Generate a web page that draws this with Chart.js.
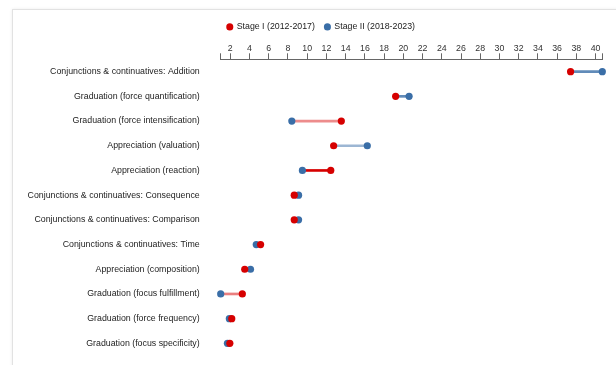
<!DOCTYPE html>
<html>
<head>
  <meta charset="utf-8">
  <title>Stage I vs Stage II</title>
  <script src="https://cdn.jsdelivr.net/npm/chart.js@4.4.0/dist/chart.umd.min.js"></script>
  <style>
    body { margin: 0; background: #ffffff; }
    #frame { position: absolute; left: 12px; top: 9px; width: 700px; height: 420px;
             border: 1px solid #e2e2e2; box-shadow: 0 0 3px rgba(0,0,0,0.08); }
    #chart { position: absolute; left: 0; top: 0; }
  </style>
</head>
<body>
  <div id="frame"></div>
  <canvas id="chart" width="616" height="365"></canvas>
  <script>
    // categories, top to bottom
    let categories = [
      "Conjunctions & continuatives: Addition",
      "Graduation (force quantification)",
      "Graduation (force intensification)",
      "Appreciation (valuation)",
      "Appreciation (reaction)",
      "Conjunctions & continuatives: Consequence",
      "Conjunctions & continuatives: Comparison",
      "Conjunctions & continuatives: Time",
      "Appreciation (composition)",
      "Graduation (focus fulfillment)",
      "Graduation (force frequency)",
      "Graduation (focus specificity)"
    ];
    let stage1 = [37.4, 19.2, 13.55, 12.75, 12.45, 8.65, 8.65, 5.15, 3.5, 3.25, 2.15, 1.95];
    let stage2 = [40.7, 20.6, 8.4, 16.25, 9.5, 9.1, 9.1, 4.7, 4.1, 1.0, 1.9, 1.7];
    let xTicks = [2, 4, 6, 8, 10, 12, 14, 16, 18, 20, 22, 24, 26, 28, 30, 32, 34, 36, 38, 40];

    const RED = "#d60000";
    const BLUE = "#3a6ea7";
    // connector opacity per row
    const linkAlpha = [0.8, 0.8, 0.45, 0.5, 1, 1, 1, 1, 1, 0.5, 1, 1];

    let allValues = stage1.concat(stage2);
    let xMin = Math.min(...allValues);
    let xMax = Math.max(...allValues);

    const font = { family: "'Liberation Sans', Arial, sans-serif", size: 8.8 };

    // nudge the legend so it sits where the original one is
    const legendShift = {
      id: 'legendShift',
      afterLayout(chart) {
        chart.legend.left += 20;
        chart.legend.right += 20;
      }
    };

    var ctx = document.getElementById('chart').getContext('2d');
    var myChart = new Chart(ctx, {
      type: 'bar',
      plugins: [legendShift],
      data: {
        labels: categories,
        datasets: [
          {
            type: 'line',
            label: "Stage I (2012-2017)",
            data: stage1,
            showLine: false,
            clip: false,
            pointRadius: 3.6,
            pointHoverRadius: 3.6,
            pointBorderWidth: 0,
            pointBackgroundColor: RED,
            backgroundColor: RED,
            borderColor: RED
          },
          {
            type: 'line',
            label: "Stage II (2018-2023)",
            data: stage2,
            showLine: false,
            clip: false,
            pointRadius: 3.6,
            pointHoverRadius: 3.6,
            pointBorderWidth: 0,
            pointBackgroundColor: BLUE,
            backgroundColor: BLUE,
            borderColor: BLUE
          },
          {
            label: "link",
            data: stage1.map((v, i) => [v, stage2[i]]),
            barThickness: 2,
            borderSkipped: false,
            clip: false,
            backgroundColor: c => {
              let i = c.dataIndex;
              let a = linkAlpha[i];
              return stage2[i] > stage1[i] ? `rgba(58,110,167,${a})` : `rgba(214,0,0,${a})`;
            }
          }
        ]
      },
      options: {
        responsive: false,
        animation: false,
        indexAxis: 'y',
        layout: { padding: { top: 12.5, right: 13.7, bottom: 9.3, left: 0 } },
        plugins: {
          tooltip: { enabled: false },
          legend: {
            position: 'top',
            labels: {
              filter: item => item.text !== "link",
              usePointStyle: true,
              pointStyle: 'circle',
              boxWidth: 5,
              boxHeight: 5,
              padding: 10,
              color: '#222',
              font: font
            }
          }
        },
        scales: {
          x: {
            type: 'linear',
            position: 'top',
            min: xMin,
            max: xMax,
            afterFit: s => { s.height = 18; },
            afterBuildTicks: s => {
              s.ticks = [xMin].concat(xTicks, [xMax]).map(v => ({ value: v }));
            },
            grid: { drawOnChartArea: false, drawTicks: true, tickLength: 6, color: '#666' },
            border: { display: true, color: '#666' },
            ticks: {
              autoSkip: false,
              maxRotation: 0,
              padding: -1,
              color: '#333',
              font: font,
              callback: v => xTicks.includes(v) ? v : ''
            }
          },
          y: {
            type: 'category',
            afterFit: s => {
              s.width = 220.7;
              s.paddingTop = 0;
              s.paddingBottom = 0;
            },
            grid: { display: false, drawTicks: false },
            border: { display: false },
            ticks: { padding: 21, color: '#222', font: font }
          }
        }
      }
    });
  </script>
</body>
</html>
